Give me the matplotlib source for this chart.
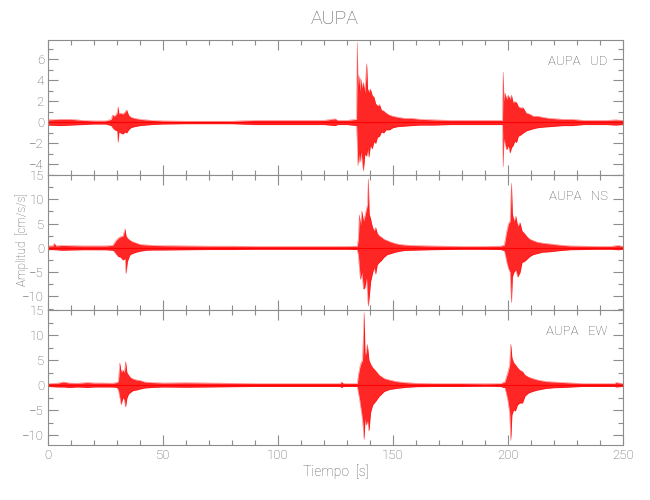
import matplotlib
matplotlib.use('Agg')
import matplotlib.pyplot as plt
from matplotlib.ticker import MultipleLocator

# envelope of each trace: time [s], upper and lower amplitude [cm/s/s]
ud_t = [0, 5, 10, 15, 20, 25, 27.5,
        28, 29, 30, 30.5, 30.8, 31.5, 32.5, 33.5, 34.2, 35, 36, 37.5, 40, 45,
        50, 60, 70, 80, 90, 100, 110, 120, 124.8, 126, 130, 134.2,
        134.5, 134.8, 135.2, 135.6, 136, 136.5, 137.2, 137.8, 138.6, 139, 139.6, 140.2, 141, 141.8,
        142.5, 143.3, 144.2, 145, 146, 147, 148.5, 150, 152, 155, 158, 162, 168, 175, 185, 195, 197.7,
        198, 198.3, 198.8, 199.5, 200.2, 201, 201.6, 202.3, 203, 203.8, 204.6, 205.5, 206.7, 208,
        209.5, 211, 213, 215, 218, 221, 224, 228, 233, 238, 243, 247, 250]
ud_hi = [0.25, 0.3, 0.3, 0.2, 0.15, 0.15, 0.3,
         0.7, 0.6, 0.9, 1.5, 0.8, 0.9, 0.8, 1.0, 1.2, 0.7, 0.5, 0.4, 0.3, 0.2,
         0.15, 0.12, 0.12, 0.12, 0.2, 0.2, 0.2, 0.2, 0.35, 0.2, 0.2, 0.3,
         7.6, 3.5, 4.5, 3.0, 4.2, 3.3, 3.8, 2.8, 5.6, 3.2, 2.9, 3.2, 2.6, 2.4,
         1.8, 1.6, 1.7, 1.2, 1.1, 0.9, 0.7, 0.6, 0.5, 0.4, 0.4, 0.3, 0.25, 0.2, 0.2, 0.2, 0.2,
         4.8, 2.0, 2.8, 2.2, 2.6, 2.2, 2.6, 1.9, 2.0, 1.9, 1.5, 1.4, 1.4, 0.9,
         0.8, 0.6, 0.6, 0.5, 0.4, 0.35, 0.3, 0.3, 0.2, 0.2, 0.2, 0.25, 0.2]
ud_lo = [-0.25, -0.3, -0.25, -0.2, -0.15, -0.15, -0.3,
         -0.5, -0.7, -0.8, -1.9, -0.9, -1.0, -1.1, -0.9, -1.0, -0.7, -0.5, -0.4, -0.3, -0.2,
         -0.15, -0.12, -0.12, -0.12, -0.2, -0.2, -0.2, -0.2, -0.3, -0.2, -0.2, -0.3,
         -2.0, -4.1, -3.0, -3.8, -2.8, -3.5, -4.6, -3.0, -3.2, -2.5, -3.3, -2.2, -2.5, -1.8,
         -2.0, -1.4, -1.3, -0.9, -1.0, -0.7, -0.7, -0.5, -0.4, -0.35, -0.3, -0.25, -0.25, -0.2, -0.2, -0.2, -0.2,
         -4.2, -1.5, -2.0, -2.6, -2.2, -2.9, -2.4, -2.2, -1.8, -1.9, -1.3, -1.2, -1.0, -0.8,
         -0.7, -0.6, -0.5, -0.45, -0.4, -0.35, -0.3, -0.3, -0.2, -0.2, -0.2, -0.25, -0.2]

ns_t = [0, 2, 2.7, 3.5, 6, 10, 15, 20, 25, 28,
        28.5, 29.5, 30.5, 31.5, 32.5, 33.5, 33.9, 34.5, 35.5, 36.5, 38.3, 40, 42.6, 46,
        50, 60, 70, 80, 90, 100, 110, 120, 130, 134.5,
        135, 135.4, 135.9, 136.5, 137.2, 137.8, 138.5, 139.0, 139.3, 139.7, 140.3, 141, 141.8,
        142.5, 143.2, 144, 145, 146, 147.5, 149, 151, 153, 155, 158, 162, 166, 172, 180, 190, 197, 198.5,
        199, 199.6, 200.3, 201.0, 201.6, 202.0, 202.7, 203.5, 204.3, 205.3, 206.2, 207.2, 208.2,
        209.5, 211, 212.6, 215, 218.4, 222, 227, 233, 238.6, 245, 248, 250]
ns_hi = [0.4, 0.4, 0.9, 0.4, 0.5, 0.45, 0.4, 0.4, 0.4, 0.5,
         0.8, 1.5, 2.0, 2.3, 2.4, 3.9, 2.5, 2.0, 1.6, 1.3, 1.0, 0.7, 0.6, 0.5,
         0.45, 0.4, 0.35, 0.35, 0.3, 0.3, 0.3, 0.3, 0.3, 0.35,
         2.0, 6.8, 4.5, 7.6, 5.5, 6.5, 8.0, 9.0, 14.2, 7.0, 6.0, 4.5, 3.5,
         4.2, 3.0, 2.5, 2.2, 1.8, 1.5, 1.2, 0.9, 0.7, 0.6, 0.5, 0.45, 0.4, 0.35, 0.3, 0.3, 0.35, 0.6,
         2.0, 3.5, 5.0, 5.5, 13.3, 7.0, 5.5, 6.5, 4.5, 5.2, 3.5, 3.0, 2.4,
         1.8, 1.5, 1.2, 1.0, 0.8, 0.6, 0.4, 0.35, 0.3, 0.3, 0.5, 0.3]
ns_lo = [-0.4, -0.35, -0.4, -0.4, -0.5, -0.45, -0.4, -0.4, -0.4, -0.5,
         -0.6, -1.2, -1.8, -1.9, -2.5, -2.2, -5.3, -2.8, -1.5, -1.2, -0.9, -0.7, -0.5, -0.45,
         -0.45, -0.4, -0.35, -0.35, -0.3, -0.3, -0.3, -0.3, -0.3, -0.35,
         -1.5, -4.0, -6.5, -5.0, -8.5, -8.2, -6.0, -10.0, -12.0, -10.2, -7.0, -5.5, -4.0,
         -5.4, -3.5, -3.0, -2.6, -2.0, -1.4, -1.2, -0.9, -0.7, -0.55, -0.5, -0.45, -0.4, -0.35, -0.3, -0.3, -0.35, -0.6,
         -1.6, -3.0, -4.2, -5.0, -11.3, -6.0, -5.0, -4.5, -6.0, -5.1, -3.0, -2.8, -2.4,
         -1.8, -1.4, -1.2, -0.9, -0.8, -0.6, -0.4, -0.35, -0.3, -0.3, -0.4, -0.3]

ew_t = [0, 4, 6.7, 9, 13, 17, 20, 24, 28, 30,
        30.6, 31.2, 31.8, 32.5, 33.2, 33.7, 34.3, 35, 35.8, 37, 38.5, 40, 42, 45,
        50, 60, 70, 80, 90, 100, 110, 120, 127, 127.7, 128.5, 134.5,
        135, 135.6, 136.2, 136.8, 137.5, 137.9, 138.4, 138.9, 139.6, 140.3, 141.2, 142.6, 144,
        146.2, 148.5, 151.3, 155, 160, 168, 180, 190, 197, 198, 198.7,
        199.3, 200, 200.8, 201.3, 201.8, 202.5, 203.3, 204.2, 205.2, 206.4, 207.5, 209, 210.7,
        213, 216.5, 220, 223.8, 228, 232.5, 240, 246.5, 247, 250]
ew_hi = [0.3, 0.35, 0.6, 0.4, 0.35, 0.5, 0.4, 0.4, 0.35, 0.5,
         0.8, 4.4, 2.5, 3.0, 2.5, 4.7, 2.5, 2.0, 1.5, 1.2, 1.0, 0.9, 0.6, 0.5,
         0.4, 0.45, 0.4, 0.35, 0.3, 0.3, 0.3, 0.3, 0.3, 0.6, 0.3, 0.3,
         2.0, 3.5, 4.5, 5.0, 14.5, 6.0, 6.5, 8.1, 5.0, 4.2, 3.5, 2.8, 2.0,
         1.3, 1.0, 0.7, 0.5, 0.35, 0.3, 0.3, 0.25, 0.3, 0.5, 0.6,
         1.5, 2.5, 4.0, 8.2, 5.5, 4.5, 4.1, 3.5, 3.0, 2.7, 2.0, 1.6, 1.3,
         1.0, 0.7, 0.6, 0.5, 0.4, 0.3, 0.3, 0.3, 0.5, 0.3]
ew_lo = [-0.3, -0.4, -0.4, -0.5, -0.4, -0.5, -0.4, -0.4, -0.4, -0.5,
         -1.0, -2.5, -3.9, -2.5, -3.0, -4.4, -2.6, -1.8, -1.5, -1.1, -1.0, -0.8, -0.6, -0.5,
         -0.4, -0.45, -0.4, -0.35, -0.3, -0.3, -0.3, -0.3, -0.3, -0.5, -0.3, -0.3,
         -1.5, -3.1, -5.0, -7.0, -10.9, -6.5, -8.0, -7.0, -9.2, -5.5, -4.0, -3.2, -2.3,
         -1.3, -0.9, -0.7, -0.5, -0.35, -0.3, -0.3, -0.25, -0.3, -0.5, -0.5,
         -1.5, -3.0, -5.5, -11.1, -6.0, -5.0, -5.2, -4.0, -3.6, -3.6, -2.2, -1.6, -1.3,
         -1.0, -0.7, -0.55, -0.5, -0.4, -0.3, -0.3, -0.3, -0.4, -0.3]

station = 'AUPA'
components = ['UD', 'NS', 'EW']
ylims = [(-5, 7.85), (-12.8, 15), (-12, 15)]
ymajor = [2, 5, 5]
yminor = [1, 2.5, 2.5]

grey = '#8c8c8c'
txt = '#5a5a5a'
plt.rcParams['font.family'] = ['Roboto', 'DejaVu Sans']
plt.rcParams['font.weight'] = 'light'

fig, axes = plt.subplots(3, 1, figsize=(6.5, 5), dpi=100, sharex=True)
fig.subplots_adjust(left=0.074, right=0.958, top=0.92, bottom=0.11, hspace=0)

traces = [(ud_t, ud_hi, ud_lo), (ns_t, ns_hi, ns_lo), (ew_t, ew_hi, ew_lo)]
for i, ax in enumerate(axes):
    t, hi, lo = traces[i]
    ax.fill_between(t, lo, hi, color='red', alpha=0.85, linewidth=0)
    ax.plot(t, hi, color='red', lw=0.35, alpha=0.6)
    ax.plot(t, lo, color='red', lw=0.35, alpha=0.6)
    ax.plot([0, 250], [0, 0], color='red', lw=0.8)
    ax.set_xlim(0, 250)
    ax.set_ylim(*ylims[i])
    ax.xaxis.set_major_locator(MultipleLocator(50))
    ax.xaxis.set_minor_locator(MultipleLocator(10))
    ax.yaxis.set_major_locator(MultipleLocator(ymajor[i]))
    ax.yaxis.set_minor_locator(MultipleLocator(yminor[i]))
    ax.tick_params(which='both', direction='in', top=True, right=True, colors=grey,
                   labelcolor=txt, labelsize=9.5, pad=3)
    ax.tick_params(which='major', length=7, width=0.8)
    ax.tick_params(which='minor', length=3.5, width=0.8)
    for s in ax.spines.values():
        s.set_color(grey)
        s.set_linewidth(0.8)
    ax.text(0.974, 0.84, station + '   ' + components[i], transform=ax.transAxes,
            ha='right', va='center', fontsize=9.5, color=txt)

fig.text(0.515, 0.963, station, ha='center', va='center', fontsize=14, color=txt)
fig.text(0.034, 0.52, 'Amplitud  [cm/s/s]', rotation=90, ha='center', va='center',
         fontsize=8.5, color=txt)
fig.text(0.517, 0.057, 'Tiempo  [s]', ha='center', va='center', fontsize=10, color=txt)

plt.savefig('out.png', dpi=100)
